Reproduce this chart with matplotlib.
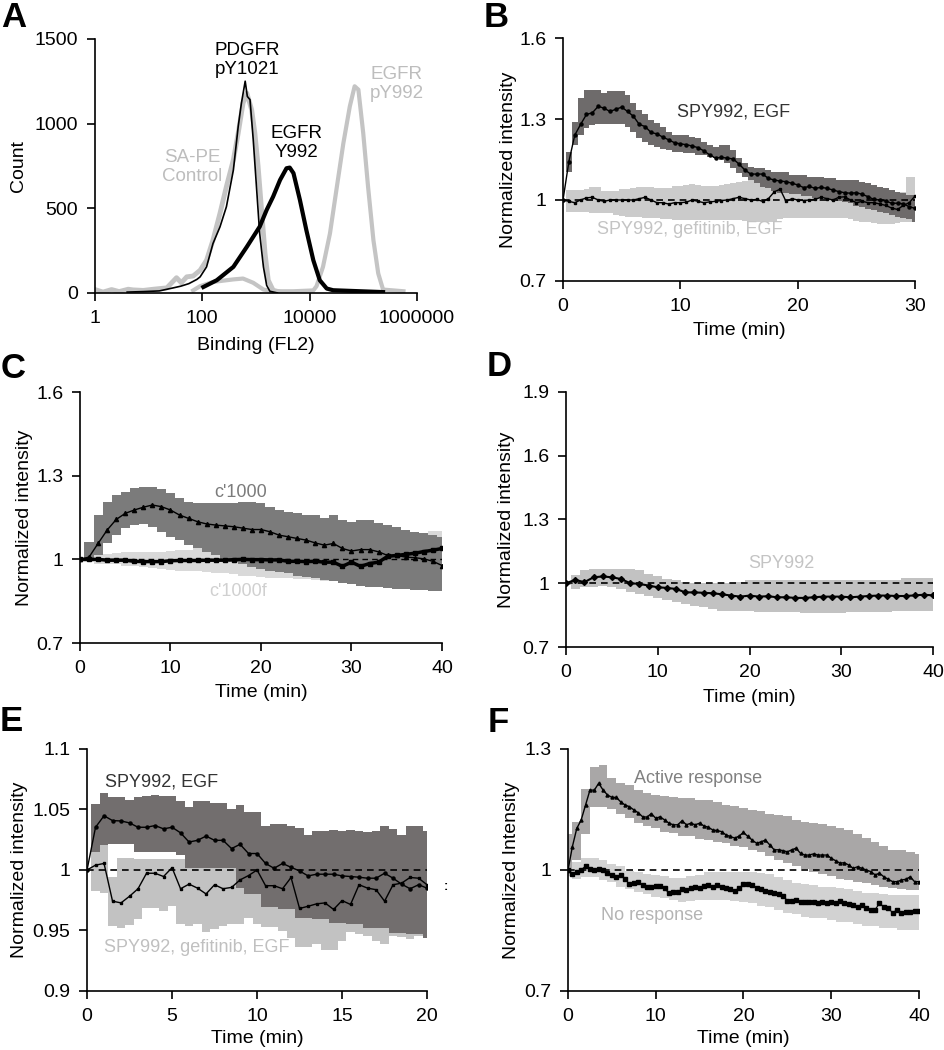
import numpy as np
import matplotlib.pyplot as plt

plt.rcParams['font.family'] = ['Liberation Sans', 'DejaVu Sans']
plt.rcParams['font.size'] = 14

# ---------------- panel A : flow histograms (log10 of binding, count)
sape_x = [0, 0.15, 0.31, 0.45, 0.62, 0.71, 0.9, 1.09, 1.34, 1.52, 1.61, 1.71, 1.83, 1.96, 2.08, 2.2, 2.33, 2.45,
          2.58, 2.67, 2.76, 2.83, 2.92, 2.98, 3.04, 3.11, 3.17, 3.23, 3.32, 3.45]
sape_y = [20, 5, 20, 8, 22, 18, 15, 22, 30, 90, 60, 95, 100, 134, 193, 312, 470, 628,
          786, 944, 1121, 1180, 1082, 944, 750, 470, 233, 75, 16, 5]
pdgfr_x = [0.6, 0.9, 1.2, 1.46, 1.6, 1.75, 1.9, 1.96, 2.08, 2.2, 2.33, 2.45, 2.58, 2.67, 2.73, 2.80, 2.84,
           2.89, 2.95, 3.01, 3.07, 3.14, 3.2, 3.26, 3.4]
pdgfr_y = [5, 8, 12, 30, 40, 55, 80, 95, 154, 292, 390, 509, 726, 983, 1121, 1250, 1160,
           1141, 904, 628, 351, 154, 45, 10, 0]
egfr_x = [2.02, 2.27, 2.58, 2.83, 3.07, 3.2, 3.32, 3.45, 3.57, 3.63, 3.7, 3.82, 3.94, 4.07, 4.19, 4.32, 4.44,
          5.37]
egfr_y = [35, 75, 154, 272, 391, 490, 568, 667, 736, 740, 707, 549, 371, 193, 75, 26, 16, 5]
pegfr_x = [1.83, 1.96, 2.2, 2.58, 2.76, 2.95, 3.14, 3.32, 3.7, 4.07, 4.13, 4.25, 4.38, 4.5, 4.63, 4.75, 4.84,
           4.91, 5.0, 5.09, 5.19, 5.28, 5.37, 5.75]
pegfr_y = [15, 40, 65, 80, 85, 60, 20, 10, 10, 15, 40, 154, 351, 608, 884, 1101, 1220,
           1200, 944, 628, 312, 115, 20, 10]

# ---------------- panel B (0.5 min steps, 0..30)
tB = np.arange(0, 30.5, 0.5)
egfB = [1.0, 1.142, 1.24, 1.28, 1.317, 1.323, 1.347, 1.34, 1.328, 1.336, 1.344, 1.328, 1.31, 1.28, 1.272,
        1.25, 1.245, 1.233, 1.223, 1.212, 1.208, 1.205, 1.2, 1.194, 1.182, 1.167, 1.155, 1.158, 1.155, 1.152,
        1.133, 1.111, 1.096, 1.096, 1.096, 1.08, 1.074, 1.07, 1.068, 1.062, 1.056, 1.046, 1.05, 1.043, 1.047,
        1.043, 1.037, 1.031, 1.027, 1.025, 1.027, 1.021, 1.012, 1.002, 1.0, 0.996, 0.988, 0.988, 0.986,
        0.975, 0.969]
egfB_hi = [1.0, 1.179, 1.29, 1.377, 1.407, 1.407, 1.407, 1.395, 1.405, 1.405, 1.405, 1.39, 1.358, 1.333,
           1.32, 1.296, 1.284, 1.272, 1.253, 1.24, 1.24, 1.24, 1.235, 1.228, 1.216, 1.204, 1.198, 1.204,
           1.204, 1.185, 1.154, 1.136, 1.123, 1.117, 1.117, 1.111, 1.105, 1.105, 1.105, 1.093, 1.093, 1.093,
           1.086, 1.086, 1.086, 1.083, 1.083, 1.075, 1.074, 1.074, 1.074, 1.068, 1.062, 1.056, 1.049, 1.043,
           1.037, 1.031, 1.025, 1.019, 1.019]
egfB_lo = [1.0, 1.105, 1.204, 1.241, 1.265, 1.278, 1.281, 1.281, 1.281, 1.281, 1.281, 1.272, 1.253, 1.228,
           1.216, 1.204, 1.198, 1.188, 1.185, 1.179, 1.179, 1.173, 1.173, 1.167, 1.167, 1.16, 1.154, 1.148,
           1.136, 1.117, 1.099, 1.086, 1.074, 1.062, 1.049, 1.043, 1.035, 1.027, 1.027, 1.022, 1.022, 1.015,
           1.015, 1.006, 1.006, 1.002, 1.002, 0.998, 0.994, 0.988, 0.978, 0.973, 0.965, 0.963, 0.957, 0.951,
           0.944, 0.938, 0.932, 0.928, 0.92]
gefB = [1.0, 0.995, 0.99, 1.0, 1.008, 1.01, 1.0, 0.995, 1.0, 1.0, 1.0, 1.0, 1.0, 1.005, 1.01, 1.0, 0.99,
        0.99, 0.985, 0.99, 0.99, 0.992, 1.0, 0.995, 0.99, 0.993, 0.995, 0.998, 1.0, 1.005, 1.01, 1.005, 1.0,
        1.002, 0.995, 1.005, 1.03, 1.04, 0.995, 1.005, 1.0, 0.998, 1.0, 1.003, 1.01, 1.005, 1.0, 1.01, 1.012,
        1.0, 0.99, 0.995, 0.99, 0.99, 0.985, 0.98, 0.97, 0.965, 0.98, 0.99, 1.015]
gefB_hi = [1.0, 1.037, 1.037, 1.037, 1.04, 1.047, 1.047, 1.035, 1.035, 1.035, 1.04, 1.04, 1.045, 1.049,
           1.049, 1.049, 1.045, 1.045, 1.045, 1.05, 1.052, 1.055, 1.059, 1.055, 1.05, 1.05, 1.05, 1.055,
           1.06, 1.062, 1.065, 1.07, 1.075, 1.075, 1.07, 1.07, 1.07, 1.06, 1.05, 1.04, 1.035, 1.035, 1.035,
           1.035, 1.04, 1.04, 1.035, 1.04, 1.045, 1.035, 1.03, 1.03, 1.025, 1.025, 1.02, 1.02, 1.02, 1.02,
           1.03, 1.086, 1.086]
gefB_lo = [1.0, 0.957, 0.957, 0.957, 0.955, 0.951, 0.951, 0.951, 0.951, 0.945, 0.94, 0.938, 0.938, 0.936,
           0.934, 0.932, 0.932, 0.93, 0.928, 0.926, 0.926, 0.926, 0.926, 0.926, 0.926, 0.926, 0.926, 0.926,
           0.926, 0.926, 0.926, 0.924, 0.922, 0.92, 0.92, 0.92, 0.92, 0.93, 0.935, 0.932, 0.932, 0.932, 0.932,
           0.932, 0.932, 0.932, 0.932, 0.932, 0.932, 0.928, 0.924, 0.92, 0.92, 0.915, 0.911, 0.911, 0.911,
           0.915, 0.92, 0.92, 0.92]

# ---------------- panel C (1 min steps, 0..40)
tC = np.arange(0, 41, 1)
c1000 = [1.0, 1.008, 1.057, 1.105, 1.143, 1.165, 1.177, 1.187, 1.195, 1.189, 1.177, 1.159, 1.147, 1.135,
         1.127, 1.123, 1.12, 1.117, 1.112, 1.107, 1.107, 1.099, 1.087, 1.081, 1.075, 1.069, 1.059, 1.051,
         1.057, 1.039, 1.03, 1.035, 1.035, 1.027, 1.014, 1.014, 1.008, 1.006, 1.002, 0.993, 0.978]
c1000_hi = [1.0, 1.063, 1.159, 1.207, 1.231, 1.243, 1.255, 1.261, 1.261, 1.252, 1.237, 1.219, 1.207, 1.201,
            1.201, 1.201, 1.201, 1.201, 1.207, 1.207, 1.201, 1.189, 1.177, 1.171, 1.165, 1.159, 1.159,
            1.147, 1.159, 1.141, 1.135, 1.141, 1.141, 1.129, 1.123, 1.117, 1.105, 1.099, 1.093, 1.087, 1.081]
c1000_lo = [1.0, 1.0, 1.014, 1.057, 1.087, 1.111, 1.123, 1.127, 1.117, 1.099, 1.081, 1.069, 1.051, 1.039,
            1.027, 1.014, 1.002, 0.99, 0.982, 0.972, 0.966, 0.96, 0.954, 0.95, 0.942, 0.936, 0.934, 0.927,
            0.922, 0.915, 0.91, 0.906, 0.902, 0.9, 0.898, 0.894, 0.894, 0.89, 0.89, 0.888, 0.886]
c1000f = [1.0, 1.0, 1.0, 0.997, 0.997, 0.997, 0.993, 0.992, 0.992, 0.992, 0.995, 0.996, 0.996, 0.996, 0.997,
          0.997, 0.997, 0.999, 1.0, 0.999, 0.999, 0.998, 0.998, 0.993, 0.993, 0.992, 0.993, 0.99, 0.99, 0.975,
          0.99, 0.975, 0.985, 0.99, 1.011, 1.014, 1.018, 1.022, 1.028, 1.033, 1.039]
c1000f_hi = [1.0, 1.008, 1.02, 1.02, 1.022, 1.027, 1.027, 1.027, 1.027, 1.027, 1.03, 1.032, 1.035, 1.039,
             1.042, 1.042, 1.039, 1.035, 1.035, 1.035, 1.035, 1.035, 1.035, 1.035, 1.035, 1.04, 1.04, 1.04,
             1.045, 1.045, 1.05, 1.055, 1.06, 1.065, 1.07, 1.075, 1.08, 1.085, 1.095, 1.1, 1.1]
c1000f_lo = [0.998, 0.99, 0.984, 0.982, 0.982, 0.978, 0.975, 0.972, 0.97, 0.966, 0.963, 0.96, 0.96, 0.958,
             0.955, 0.952, 0.95, 0.946, 0.942, 0.94, 0.936, 0.934, 0.934, 0.932, 0.93, 0.928, 0.926, 0.924,
             0.922, 0.92, 0.918, 0.916, 0.914, 0.912, 0.91, 0.908, 0.906, 0.904, 0.902, 0.9, 0.9]

# ---------------- panel D (1 min steps, 0..40)
tD = np.arange(0, 41, 1)
spyD = [1.0, 1.016, 1.005, 1.028, 1.032, 1.028, 1.02, 1.0, 0.997, 0.989, 0.981, 0.978, 0.973, 0.957, 0.957,
        0.955, 0.953, 0.948, 0.942, 0.937, 0.942, 0.937, 0.939, 0.934, 0.934, 0.931, 0.931, 0.934, 0.937,
        0.937, 0.937, 0.934, 0.937, 0.94, 0.942, 0.942, 0.94, 0.94, 0.943, 0.946, 0.943]
spyD_hi = [1.0, 1.041, 1.06, 1.068, 1.068, 1.068, 1.068, 1.068, 1.06, 1.044, 1.032, 1.022, 1.013, 1.005,
           1.0, 1.0, 1.0, 1.0, 1.0, 1.005, 1.013, 1.013, 1.013, 1.013, 1.013, 1.013, 1.013, 1.013, 1.013,
           1.013, 1.013, 1.013, 1.013, 1.013, 1.013, 1.013, 1.013, 1.025, 1.025, 1.025, 1.025]
spyD_lo = [0.99, 0.973, 0.981, 0.981, 0.989, 0.981, 0.973, 0.957, 0.95, 0.942, 0.931, 0.921, 0.91, 0.902,
           0.894, 0.886, 0.879, 0.871, 0.871, 0.871, 0.871, 0.863, 0.863, 0.863, 0.863, 0.863, 0.858, 0.858,
           0.858, 0.858, 0.858, 0.863, 0.863, 0.863, 0.863, 0.863, 0.871, 0.871, 0.871, 0.871, 0.871]

# ---------------- panel E (0.5 min steps, 0..20)
tE = np.arange(0, 20.5, 0.5)
egfE = [1.0, 1.0353, 1.0448, 1.0408, 1.0405, 1.0389, 1.0353, 1.0353, 1.0367, 1.034, 1.0353, 1.0307, 1.0231,
        1.0245, 1.028, 1.0245, 1.0245, 1.0177, 1.0212, 1.0136, 1.0136, 1.0054, 1.0014, 1.0054, 1.0022,
        0.9992, 0.9951, 0.9965, 0.9965, 0.9965, 0.9951, 0.9946, 0.994, 0.9932, 0.9932, 0.9973, 0.9932,
        0.9883, 0.9845, 0.9878, 0.985]
egfE_hi = [1.0, 1.0543, 1.064, 1.06, 1.06, 1.058, 1.06, 1.0608, 1.062, 1.0608, 1.0612, 1.057, 1.052, 1.057,
           1.057, 1.0557, 1.0557, 1.05, 1.0535, 1.0475, 1.0475, 1.0367, 1.038, 1.038, 1.0367, 1.0345, 1.029,
           1.0326, 1.0326, 1.0332, 1.0326, 1.0334, 1.0318, 1.0312, 1.0326, 1.036, 1.0338, 1.029, 1.036,
           1.0365, 1.0326]
egfE_lo = [1.0, 1.015, 1.0204, 1.0212, 1.0212, 1.0212, 1.015, 1.015, 1.015, 1.015, 1.015, 1.012, 1.0014,
           1.0014, 1.0014, 1.0014, 1.0014, 1.0014, 0.985, 0.98, 0.98, 0.969, 0.969, 0.9674, 0.9674, 0.9606,
           0.9606, 0.9592, 0.9592, 0.9565, 0.9565, 0.955, 0.955, 0.9524, 0.9524, 0.9524, 0.948, 0.948, 0.9467,
           0.9467, 0.944]
gefE = [1.0, 1.004, 1.0054, 0.9742, 0.9728, 0.9783, 0.9845, 0.9973, 0.9973, 0.9946, 1.0019, 0.9845, 0.9883,
        0.985, 0.9802, 0.9878, 0.9845, 0.9856, 0.9918, 0.9954, 1.0, 0.987, 0.987, 0.9845, 0.9938, 0.9682,
        0.97, 0.972, 0.9728, 0.9674, 0.9747, 0.9715, 0.9878, 0.985, 0.9837, 0.9742, 0.9878, 0.9891, 0.9938,
        0.9932, 0.9878]
gefE_hi = [1.0, 1.015, 1.0236, 0.9946, 1.0095, 1.0095, 1.009, 1.009, 1.009, 1.009, 1.009, 1.009, 1.005,
           1.005, 1.005, 1.005, 1.005, 1.005, 1.003, 1.0, 1.0, 1.0, 1.0, 1.0, 1.0, 0.998, 0.998, 0.996, 0.996,
           0.995, 0.995, 0.994, 0.994, 0.993, 0.993, 0.993, 0.992, 0.992, 0.99, 0.99, 0.99]
gefE_lo = [1.0, 0.9823, 0.981, 0.9538, 0.952, 0.9545, 0.9592, 0.9688, 0.9688, 0.966, 0.97, 0.955, 0.9533,
           0.955, 0.9484, 0.951, 0.9538, 0.9557, 0.955, 0.9606, 0.955, 0.9525, 0.9525, 0.9497, 0.944, 0.9367,
           0.9367, 0.9389, 0.934, 0.934, 0.9416, 0.9484, 0.947, 0.9457, 0.9416, 0.9389, 0.9457, 0.9443,
           0.943, 0.9457, 0.9443]

# ---------------- panel F (means 0.5 min steps, bands 1 min steps, 0..40)
tF = np.arange(0, 40.5, 0.5)
actF = [1.0, 1.058, 1.103, 1.124, 1.161, 1.198, 1.198, 1.215, 1.198, 1.186, 1.18, 1.18, 1.169, 1.161, 1.157,
        1.149, 1.142, 1.132, 1.131, 1.14, 1.128, 1.132, 1.124, 1.116, 1.112, 1.112, 1.122, 1.112, 1.116,
        1.112, 1.116, 1.109, 1.106, 1.099, 1.098, 1.095, 1.087, 1.083, 1.079, 1.084, 1.093, 1.083, 1.074,
        1.066, 1.07, 1.074, 1.062, 1.05, 1.05, 1.048, 1.045, 1.05, 1.054, 1.041, 1.037, 1.037, 1.04, 1.037,
        1.037, 1.037, 1.029, 1.023, 1.017, 1.018, 1.012, 1.004, 1.008, 1.004, 1.0, 0.996, 0.988, 0.992,
        0.983, 0.977, 0.971, 0.971, 0.975, 0.977, 0.983, 0.971, 0.971]
noF = [1.0, 0.99, 0.996, 1.0, 1.01, 1.002, 1.0, 1.002, 1.0, 0.993, 0.988, 0.983, 0.988, 0.977, 0.965, 0.967,
       0.969, 0.963, 0.959, 0.959, 0.96, 0.96, 0.955, 0.942, 0.946, 0.946, 0.952, 0.95, 0.955, 0.959, 0.955,
       0.96, 0.963, 0.959, 0.963, 0.959, 0.955, 0.952, 0.949, 0.955, 0.965, 0.965, 0.963, 0.955, 0.952,
       0.949, 0.946, 0.942, 0.94, 0.936, 0.924, 0.924, 0.926, 0.921, 0.921, 0.921, 0.921, 0.919, 0.921,
       0.917, 0.921, 0.919, 0.924, 0.917, 0.916, 0.913, 0.909, 0.913, 0.905, 0.902, 0.902, 0.917, 0.909,
       0.905, 0.894, 0.901, 0.893, 0.897, 0.897, 0.899, 0.899]
tFb = np.arange(0, 41, 1)
actF_hi = [1.09, 1.12, 1.2, 1.255, 1.26, 1.227, 1.215, 1.21, 1.198, 1.19, 1.186, 1.184, 1.182, 1.178, 1.178,
           1.174, 1.174, 1.168, 1.161, 1.158, 1.153, 1.148, 1.145, 1.14, 1.136, 1.133, 1.124, 1.12, 1.116,
           1.114, 1.11, 1.103, 1.1, 1.09, 1.08, 1.07, 1.06, 1.05, 1.05, 1.045, 1.04]
actF_lo = [0.99, 1.025, 1.09, 1.157, 1.157, 1.15, 1.14, 1.128, 1.116, 1.11, 1.103, 1.095, 1.091, 1.085,
           1.083, 1.078, 1.074, 1.07, 1.066, 1.06, 1.058, 1.05, 1.045, 1.035, 1.025, 1.018, 1.01, 1.003,
           0.996, 0.99, 0.985, 0.978, 0.975, 0.97, 0.967, 0.962, 0.959, 0.955, 0.952, 0.95, 0.95]
noF_hi = [1.01, 1.02, 1.029, 1.029, 1.025, 1.015, 1.01, 0.998, 0.994, 0.99, 0.988, 0.985, 0.979, 0.98,
          0.985, 0.988, 0.994, 0.996, 0.996, 0.996, 0.996, 0.994, 0.992, 0.99, 0.982, 0.976, 0.968, 0.966,
          0.962, 0.959, 0.958, 0.956, 0.954, 0.948, 0.944, 0.942, 0.94, 0.938, 0.938, 0.938, 0.938]
noF_lo = [0.985, 0.978, 0.983, 0.983, 0.975, 0.97, 0.958, 0.952, 0.945, 0.94, 0.932, 0.93, 0.925, 0.921,
          0.922, 0.925, 0.925, 0.925, 0.925, 0.922, 0.92, 0.918, 0.91, 0.909, 0.9, 0.893, 0.89, 0.884, 0.882,
          0.88, 0.876, 0.872, 0.87, 0.866, 0.862, 0.86, 0.856, 0.855, 0.852, 0.851, 0.85]

DARK = '#6e6b6b'
LIGHT = '#c4c4c4'


def style(ax):
    for s in ['top', 'right']:
        ax.spines[s].set_visible(False)
    for s in ['left', 'bottom']:
        ax.spines[s].set_linewidth(1.2)
    ax.tick_params(direction='out', length=6, width=1.2, labelsize=14, pad=6)
    ax.minorticks_off()


def time_axes(ax, xmax, xticks, ylim, yticks, ylabels, ylabel, ylx, xly):
    style(ax)
    ax.set_xlim(0, xmax)
    ax.set_ylim(*ylim)
    ax.set_xticks(xticks)
    ax.set_yticks(yticks)
    ax.set_yticklabels(ylabels)
    ax.set_xlabel('Time (min)', fontsize=14)
    ax.xaxis.set_label_coords(0.5, xly)
    ax.set_ylabel(ylabel, fontsize=14)
    ax.yaxis.set_label_coords(ylx, 0.5)


def band(ax, t, lo, hi, color):
    ax.fill_between(t, lo, hi, step='mid', color=color, lw=0)


fig = plt.figure(figsize=(9.44, 10.5), dpi=100)

# ---- A
axA = fig.add_axes([0.1006, 0.721, 0.341, 0.242])
style(axA)
axA.set_xscale('log')
axA.plot(10 ** np.array(pegfr_x), pegfr_y, color=LIGHT, lw=3)
axA.plot(10 ** np.array(sape_x), sape_y, color=LIGHT, lw=3.5)
axA.plot(10 ** np.array(egfr_x), egfr_y, color='k', lw=3)
axA.plot(10 ** np.array(pdgfr_x), pdgfr_y, color='k', lw=1.2)
axA.set_xlim(1, 1e6)
axA.set_ylim(0, 1500)
axA.set_xticks([1, 100, 1e4, 1e6])
axA.set_xticklabels(['1', '100', '10000', '1000000'])
axA.minorticks_off()
axA.set_yticks([0, 500, 1000, 1500])
axA.set_xlabel('Binding (FL2)', fontsize=14)
axA.xaxis.set_label_coords(0.5, -0.173)
axA.set_ylabel('Count', fontsize=14)
axA.yaxis.set_label_coords(-0.211, 0.5)
axA.text(676, 1376, 'PDGFR\npY1021', ha='center', va='center', fontsize=13.5, linespacing=1.15)
axA.text(64.5, 744, 'SA-PE\nControl', ha='center', va='center', fontsize=13.5, linespacing=1.15,
         color='#bdbdbd')
axA.text(5800, 886, 'EGFR\nY992', ha='center', va='center', fontsize=13.5, linespacing=1.15)
axA.text(4.2e5, 1234, 'EGFR\npY992', ha='center', va='center', fontsize=13.5, linespacing=1.15,
         color='#bdbdbd')

# ---- B
axB = fig.add_axes([0.5964, 0.7324, 0.373, 0.2314])
band(axB, tB, gefB_lo, gefB_hi, '#cbcbcb')
band(axB, tB, egfB_lo, egfB_hi, DARK)
axB.axhline(1, color='k', lw=1.2, ls=(0, (4, 3)))
axB.plot(tB, gefB, color='k', lw=1, marker='s', ms=2)
axB.plot(tB, egfB, color='k', lw=1, marker='o', ms=2.2)
time_axes(axB, 30, [0, 10, 20, 30], (0.7, 1.6), [0.7, 1.0, 1.3, 1.6], ['0.7', '1', '1.3', '1.6'],
          'Normalized intensity', -0.131, -0.169)
axB.text(14.5, 1.326, 'SPY992, EGF', ha='center', va='center', fontsize=13, color='#333333')
axB.text(10.8, 0.889, 'SPY992, gefitinib, EGF', ha='center', va='center', fontsize=13, color='#c4c4c4')

# ---- C
axC = fig.add_axes([0.0847, 0.3876, 0.3835, 0.239])
band(axC, tC, c1000f_lo, c1000f_hi, '#d9d9d9')
band(axC, tC, c1000_lo, c1000_hi, '#7b7b7b')
axC.axhline(1, color='k', lw=1, ls=(0, (4, 3)))
axC.plot(tC, c1000f, color='k', lw=2.5, marker='s', ms=3.5)
axC.plot(tC, c1000, color='k', lw=1, marker='^', ms=3)
time_axes(axC, 40, [0, 10, 20, 30, 40], (0.7, 1.6), [0.7, 1.0, 1.3, 1.6], ['0.7', '1', '1.3', '1.6'],
          'Normalized intensity', -0.13, -0.163)
axC.text(17.7, 1.241, "c'1000", ha='center', va='center', fontsize=13, color='#7b7b7b')
axC.text(17.5, 0.883, "c'1000f", ha='center', va='center', fontsize=13, color='#d0d0d0')

# ---- D
axD = fig.add_axes([0.5996, 0.3838, 0.3888, 0.2429])
band(axD, tD, spyD_lo, spyD_hi, '#c2c2c2')
axD.axhline(1, color='k', lw=1.2, ls=(0, (4, 3)))
axD.plot(tD, spyD, color='k', lw=1.5, marker='D', ms=3)
time_axes(axD, 40, [0, 10, 20, 30, 40], (0.7, 1.9), [0.7, 1.0, 1.3, 1.6, 1.9],
          ['0.7', '1', '1.3', '1.6', '1.9'], 'Normalized intensity', -0.139, -0.165)
axD.text(23.5, 1.095, 'SPY992', ha='center', va='center', fontsize=13, color='#c4c4c4')

# ---- E
axE = fig.add_axes([0.0922, 0.0562, 0.3602, 0.2305])
band(axE, tE, gefE_lo, gefE_hi, '#c2c2c2')
band(axE, tE, egfE_lo, egfE_hi, '#726e6e')
axE.axhline(1, color='k', lw=1.2, ls=(0, (4, 3)))
axE.plot(tE, gefE, color='k', lw=1, marker='s', ms=2)
axE.plot(tE, egfE, color='k', lw=1, marker='o', ms=2.2)
time_axes(axE, 20, [0, 5, 10, 15, 20], (0.9, 1.1), [0.9, 0.95, 1.0, 1.05, 1.1],
          ['0.9', '0.95', '1', '1.05', '1.1'], 'Normalized intensity', -0.174, -0.161)
axE.text(4.41, 1.0727, 'SPY992, EGF', ha='center', va='center', fontsize=13, color='#333333')
axE.text(6.47, 0.936, 'SPY992, gefitinib, EGF', ha='center', va='center', fontsize=13, color='#c0c0c0')
axE.text(21.1, 0.986, ':', ha='center', va='center', fontsize=9, fontweight='bold', clip_on=False)

# ---- F
axF = fig.add_axes([0.6017, 0.0562, 0.3718, 0.2305])
band(axF, tFb, noF_lo, noF_hi, '#d2d2d2')
band(axF, tFb, actF_lo, actF_hi, '#a9a7a7')
axF.axhline(1, color='k', lw=1.2, ls=(0, (4, 3)))
axF.plot(tF, noF, color='k', lw=0.8, marker='s', ms=2.6)
axF.plot(tF, actF, color='k', lw=1, marker='^', ms=2.2)
time_axes(axF, 40, [0, 10, 20, 30, 40], (0.7, 1.3), [0.7, 1.0, 1.3], ['0.7', '1', '1.3'],
          'Normalized Intensity', -0.137, -0.161)
axF.text(14.8, 1.2256, 'Active response', ha='center', va='center', fontsize=13, color='#808080')
axF.text(9.57, 0.888, 'No response', ha='center', va='center', fontsize=13, color='#b4b4b4')

# panel letters
for lab, x, y in [('A', 0.001, 0.999), ('B', 0.512, 0.999), ('C', 0.001, 0.665), ('D', 0.515, 0.667),
                  ('E', 0.0, 0.329), ('F', 0.517, 0.328)]:
    fig.text(x, y, lab, fontsize=25, fontweight='bold', va='top', ha='left')

fig.savefig('out.png', dpi=100)
